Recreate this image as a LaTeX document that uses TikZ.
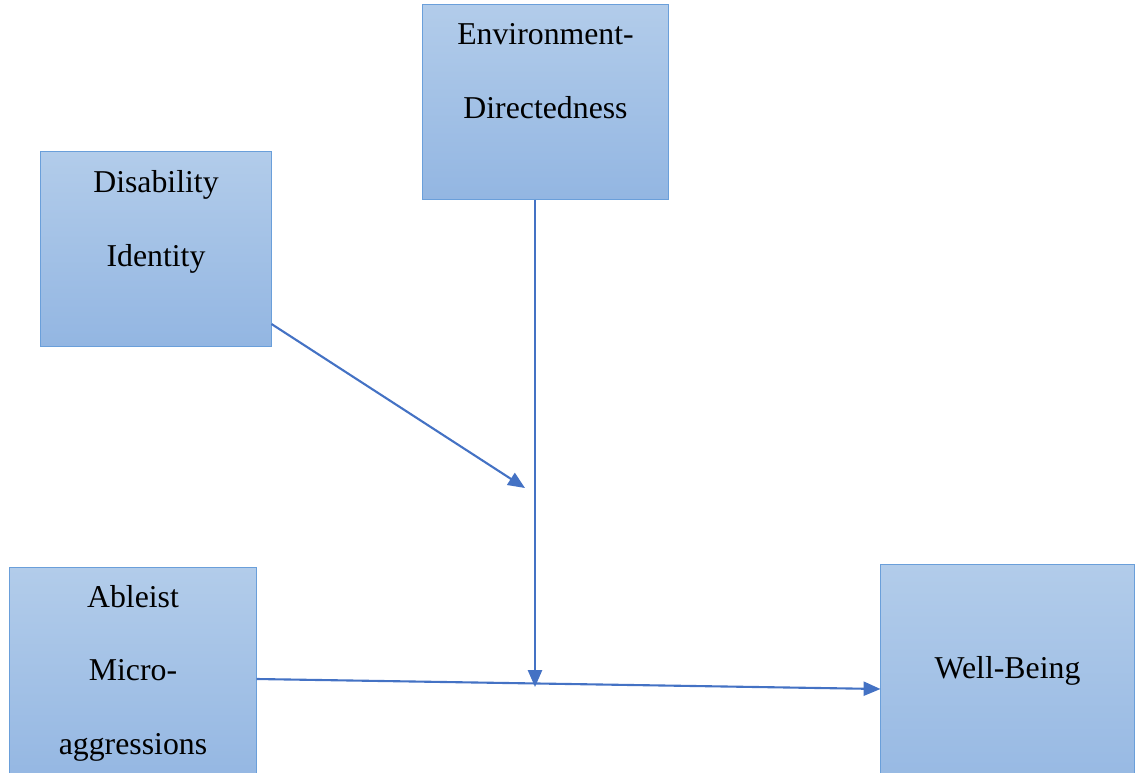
\documentclass[tikz,border=0pt]{standalone}
\usepackage{fontspec}
\setmainfont{Liberation Serif}
\usetikzlibrary{arrows.meta, positioning}

\definecolor{boxtop}{HTML}{B2CCEA}
\definecolor{boxbot}{HTML}{93B6E2}
\definecolor{boxline}{HTML}{6A9FDA}
\definecolor{linkblue}{HTML}{4472C4}

\tikzset{
  box/.style={rectangle, draw=boxline, line width=0.7pt, top color=boxtop, bottom color=boxbot, inner sep=0pt},
  lbl/.style={anchor=base, align=center, inner sep=0pt, font=\fontsize{22.6}{52.3}\selectfont},
  link/.style={draw=linkblue, line width=1.5pt, -{Triangle[length=12pt,width=10pt]}}
}

\begin{document}
\begin{tikzpicture}[x=0.025cm,y=-0.025cm]
	\useasboundingbox (0,0) rectangle (1136,773);
	\clip (0,0) rectangle (1136,773);
	% boxes
	\node[box, minimum width=6.125cm, minimum height=4.85cm] (env) at (545.5,102) {};
	\node[box, minimum width=5.75cm, minimum height=4.85cm] (dis) at (156,249) {};
	\node[box, minimum width=6.15cm, minimum height=5.55cm] (abl) at (133,679) {};
	\node[box, minimum width=6.325cm, minimum height=6.2cm] (well) at (1007.5,689) {};
	% texts (anchored at the baseline of the last line)
	\node[lbl] (envtxt) at ([yshift=-2.85cm]env.north) {Environment-\\Directedness};
	\node[lbl] (distxt) at ([yshift=-2.87cm]dis.north) {Disability\\Identity};
	\node[lbl] (abltxt) at ([yshift=-4.675cm]abl.north) {Ableist\\Micro-\\aggressions};
	\node[lbl] (welltxt) at ([yshift=-2.85cm]well.north) {Well-Being};
	% connectors
	\coordinate (dmid) at (525,488);
	\coordinate (emid) at (535,687);
	\draw[link] (dis.-33.8) -- (dmid);
	\draw[link] (env.south -| emid) -- (emid);
	\draw[link] (abl.east) -- (well.west);
\end{tikzpicture}
\end{document}
